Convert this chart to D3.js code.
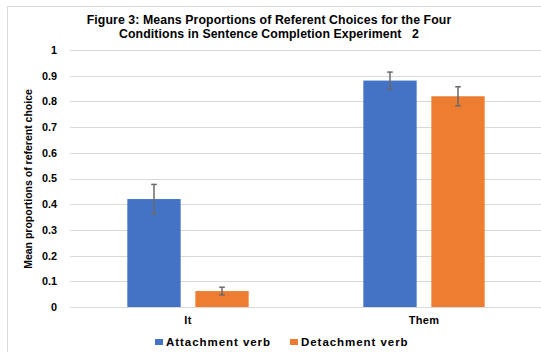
<!DOCTYPE html>
<html>
<head>
<meta charset="utf-8">
<script src="https://cdn.jsdelivr.net/npm/d3@7"></script>
<style>
  html, body { margin: 0; padding: 0; background: #fff; }
  svg { display: block; }
  text { font-family: "Liberation Sans", Arial, sans-serif; font-weight: bold; fill: #000; }
</style>
</head>
<body>
<svg id="chart" width="541" height="352"></svg>
<script>
// Conditions (pronoun) and verb types
const categories = ["It", "Them"];
const seriesNames = ["Attachment verb", "Detachment verb"];
const seriesColors = ["#4472C4", "#ED7D31"];

// Mean proportions of referent choice per condition
const attachmentValues = [0.42, 0.881];
const detachmentValues = [0.062, 0.820];

// Error bar half-widths
const attachmentErrors = [0.057, 0.033];
const detachmentErrors = [0.015, 0.037];

const yTicks = [0, 0.1, 0.2, 0.3, 0.4, 0.5, 0.6, 0.7, 0.8, 0.9, 1];
const titleLines = [
  "Figure 3: Means Proportions of Referent Choices for the Four",
  "Conditions in Sentence Completion Experiment\u00a0\u00a0 2"
];
const yAxisTitle = "Mean proportions of referent choice";

const svg = d3.select("#chart");

// chart area border
svg.append("rect")
  .attr("x", 7.5).attr("y", 6.5)
  .attr("width", 560).attr("height", 400)
  .attr("fill", "none").attr("stroke", "#d9d9d9").attr("stroke-width", 1);

const plot = { left: 70, right: 542, top: 50, bottom: 307 };

const x0 = d3.scaleBand().domain(categories)
  .range([plot.left, plot.right]).paddingInner(0).paddingOuter(0);
const x1 = d3.scaleBand().domain(seriesNames)
  .range([0, x0.bandwidth()]).paddingInner(0.216).paddingOuter(0.843);
const y = d3.scaleLinear().domain([0, 1]).range([plot.bottom, plot.top]);

// gridlines
svg.append("g").selectAll("line").data(yTicks).join("line")
  .attr("x1", plot.left).attr("x2", 541)
  .attr("y1", d => Math.round(y(d)) + 0.5).attr("y2", d => Math.round(y(d)) + 0.5)
  .attr("stroke", "#d9d9d9").attr("stroke-width", 1);

// y axis labels
const yAxis = d3.axisLeft(y).tickValues(yTicks).tickSize(0).tickPadding(0)
  .tickFormat(d => d3.format("~g")(d));
svg.append("g").attr("transform", `translate(${plot.left - 13},0)`).call(yAxis)
  .call(g => g.select(".domain").remove())
  .call(g => g.selectAll("text").style("font-size", "10.8px")
    .style("font-family", "'Liberation Sans', Arial, sans-serif").style("font-weight", "bold").attr("fill", "#000"));

// bars
const rows = categories.map((c, i) => ({
  cat: c,
  vals: [
    { s: seriesNames[0], v: attachmentValues[i], e: attachmentErrors[i], c: seriesColors[0] },
    { s: seriesNames[1], v: detachmentValues[i], e: detachmentErrors[i], c: seriesColors[1] }
  ]
}));

const groups = svg.append("g").selectAll("g").data(rows).join("g")
  .attr("transform", d => `translate(${x0(d.cat)},0)`);

groups.selectAll("rect").data(d => d.vals).join("rect")
  .attr("x", d => x1(d.s)).attr("width", x1.bandwidth())
  .attr("y", d => y(d.v)).attr("height", d => y(0) - y(d.v))
  .attr("fill", d => d.c);

// error bars
const eb = groups.selectAll("g.err").data(d => d.vals).join("g").attr("class", "err")
  .attr("stroke", "#6a6a6a").attr("stroke-width", 1.5);
eb.append("line")
  .attr("x1", d => x1(d.s) + x1.bandwidth() / 2).attr("x2", d => x1(d.s) + x1.bandwidth() / 2)
  .attr("y1", d => y(d.v + d.e)).attr("y2", d => y(d.v - d.e));
eb.append("line")
  .attr("x1", d => x1(d.s) + x1.bandwidth() / 2 - 2.8).attr("x2", d => x1(d.s) + x1.bandwidth() / 2 + 2.8)
  .attr("y1", d => y(d.v + d.e)).attr("y2", d => y(d.v + d.e));
eb.append("line")
  .attr("x1", d => x1(d.s) + x1.bandwidth() / 2 - 2.8).attr("x2", d => x1(d.s) + x1.bandwidth() / 2 + 2.8)
  .attr("y1", d => y(d.v - d.e)).attr("y2", d => y(d.v - d.e));

// x axis labels
svg.append("g").selectAll("text").data(categories).join("text")
  .attr("x", d => x0(d) + x0.bandwidth() / 2).attr("y", 324)
  .attr("text-anchor", "middle").style("font-size", "11px").style("letter-spacing", "0.3px").text(d => d);

// title
svg.append("g").selectAll("text").data(titleLines).join("text")
  .attr("x", 269).attr("y", (d, i) => 24 + i * 14)
  .attr("text-anchor", "middle").style("font-size", "12.3px").style("letter-spacing", "0.1px").text(d => d);

// y axis title
svg.append("text")
  .attr("transform", "translate(32,179) rotate(-90)")
  .attr("text-anchor", "middle").style("font-size", "10.5px").text(yAxisTitle);

// legend
const legendX = [155, 290];
const legend = svg.append("g").selectAll("g").data(seriesNames).join("g")
  .attr("transform", (d, i) => `translate(${legendX[i]},0)`);
legend.append("rect").attr("x", 0).attr("y", 339).attr("width", 8).attr("height", 6)
  .attr("fill", (d, i) => seriesColors[i]);
legend.append("text").attr("x", 11).attr("y", 345.5)
  .style("font-size", "11.5px").style("letter-spacing", "0.95px").text(d => d);
</script>
</body>
</html>
